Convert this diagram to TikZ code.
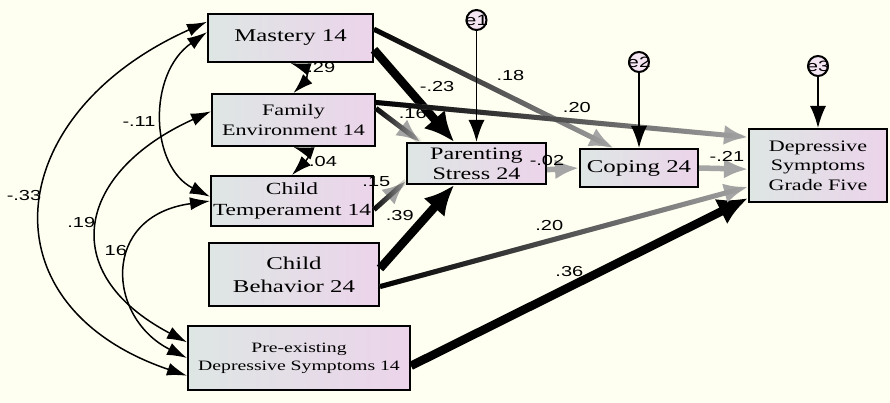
\documentclass[tikz,border=0pt]{standalone}
\usepackage{fontspec}
\setmainfont{Liberation Serif}[FakeStretch=1.38]
\newfontfamily\lblfont{Liberation Sans}[FakeStretch=1.38]
\usetikzlibrary{positioning,arrows.meta,fadings}

\definecolor{paper}{RGB}{254,255,240}
\definecolor{boxleft}{RGB}{222,230,228}
\definecolor{boxright}{RGB}{236,212,234}
\definecolor{pathgrey}{RGB}{165,165,165}

\tikzfading[name=darkstart, left color=transparent!0, right color=transparent!100]

\tikzset{
  var/.style={draw, line width=2pt, left color=boxleft, right color=boxright,
    inner sep=0pt, align=center, font=\fontsize{18}{21}\selectfont},
  err/.style={circle, draw, line width=2pt, inner sep=0pt, minimum size=20pt,
    fill=boxright!60!white, font=\lblfont\fontsize{15}{15}\selectfont},
  lbl/.style={font=\lblfont\fontsize{14.5}{15}\selectfont, inner sep=0pt},
  cov/.style={line width=1.5pt, {Latex[length=20pt,width=13pt]}-{Latex[length=20pt,width=13pt]}},
  bold path/.style={line width=8.5pt, -{Latex[length=30pt,width=28pt]}},
  grey path/.style={draw=pathgrey, line width=5.5pt, -{Latex[length=24pt,width=20pt]}},
  fade path/.style={grey path, line width=5pt,
    postaction={draw=black, path fading=darkstart, arrows=-}},
  errpath/.style={line width=1.8pt, -{Latex[length=22pt,width=16pt]}}
}

\begin{document}
\begin{tikzpicture}[x=1pt, y=-1pt, on grid]
\fill [paper] (0,0) rectangle (890,403);
\useasboundingbox (0,0) rectangle (890,403);

% observed variables
\node [var, minimum width=165pt, minimum height=48pt] (mastery) at (290.5,38) {Mastery 14};
\node [var, minimum width=163pt, minimum height=52pt, font=\fontsize{16}{20}\selectfont]
  (family) [below right=82pt and 3pt of mastery] {Family\\Environment 14};
\node [var, minimum width=162pt, minimum height=50pt, font=\fontsize{17}{21}\selectfont]
  (temper) [below left=81pt and 1.5pt of family] {Child\\Temperament 14};
\node [var, minimum width=170pt, minimum height=63pt, font=\fontsize{18}{23}\selectfont]
  (behav) [below right=73.5pt and 2pt of temper] {Child\\Behavior 24};
\node [var, minimum width=222pt, minimum height=64pt, font=\fontsize{14.3}{18}\selectfont]
  (preex) [below right=83.5pt and 5pt of behav] {Pre-existing\\Depressive Symptoms 14};
\node [var, minimum width=139pt, minimum height=41pt, font=\fontsize{17.5}{20}\selectfont]
  (stress) at (476.5,163.5) {Parenting\\Stress 24};
\node [var, minimum width=118pt, minimum height=38pt]
  (coping) [below right=4.5pt and 162.5pt of stress] {Coping 24};
\node [var, minimum width=138pt, minimum height=73pt, font=\fontsize{16}{19.5}\selectfont]
  (depr) [above right=2.5pt and 179pt of coping] {Depressive\\Symptoms\\Grade Five};

% residuals
\node [err] (e1) [above=143.5pt of stress] {\makebox[0pt]{e1}};
\node [err] (e2) [above=106pt of coping] {\makebox[0pt]{e2}};
\node [err] (e3) [above=99.5pt of depr] {\makebox[0pt]{e3}};

% regression paths
\path
(mastery.-8) edge [bold path] node [lbl, pos=.4, xshift=31pt] (wMS) {-.23} (stress.136)
(behav.4) edge [bold path] node [lbl, pos=.63, xshift=-27pt] (wBS) {.39} (stress.224)
(preex.-4) edge [bold path] node [lbl, pos=.47, yshift=15.5pt] (wPD) {.36} (depr.205);
\path
(mastery.6) edge [fade path] node [lbl, pos=.57, yshift=21pt] (wMC) {.18} (coping.142)
(family.8) edge [fade path] node [lbl, pos=.5, xshift=14.5pt, yshift=12pt] (wFS) {.16} (stress.159)
(family.12) edge [fade path] node [lbl, pos=.54, yshift=13.5pt] (wFD) {.20} (depr.158)
(temper.-6) edge [fade path] node [lbl, pos=.2, xshift=-4pt, yshift=22pt] (wTS) {.15} (stress.194)
(behav.-8) edge [fade path] node [lbl, pos=.46, yshift=15pt] (wBD) {.20} (depr.197);
\path
(stress.-5) edge [grey path] node [lbl, pos=0, yshift=9pt] (wSC) {-.02} (coping.west)
(coping.east) edge [grey path] node [lbl, pos=.57, yshift=12pt] (wCD) {-.21} (depr.183);
\path [errpath]
(e1) edge (stress)
(e2) edge (coping)
(e3) edge (depr);

% covariances
\draw [cov] (mastery.169) .. controls +(-206,92) and +(-206,-70) .. (preex.189)
  node [lbl, pos=.5, xshift=-18.5pt, yshift=11pt] (cMP) {-.33};
\draw [cov] (mastery.176) .. controls +(-60,42) and +(-60,-30) .. (temper.177)
  node [lbl, pos=.5, xshift=-24.5pt, yshift=-3pt] (cMT) {-.11};
\draw [cov] (family.174) .. controls +(-133,60) and +(-133,-70) .. (preex.172)
  node [lbl, pos=.5, xshift=-18pt, yshift=1pt] (cFP) {.19};
\draw [cov] (temper.west) .. controls +(-110,15) and +(-80,-40) .. (preex.west)
  node [lbl, pos=.4, xshift=-15.5pt, yshift=1pt] (cTP) {16};
\draw [cov] (mastery.south) .. controls +(18,6) and +(12,-12) .. (family.north)
  node [lbl, pos=.5, xshift=18pt, yshift=8pt] (cMF) {.29};
\draw [cov] (family.south) .. controls +(18,6) and +(12,-12) .. (temper.north)
  node [lbl, pos=.5, xshift=19pt, yshift=-3pt] (cFT) {.04};
\end{tikzpicture}
\end{document}
